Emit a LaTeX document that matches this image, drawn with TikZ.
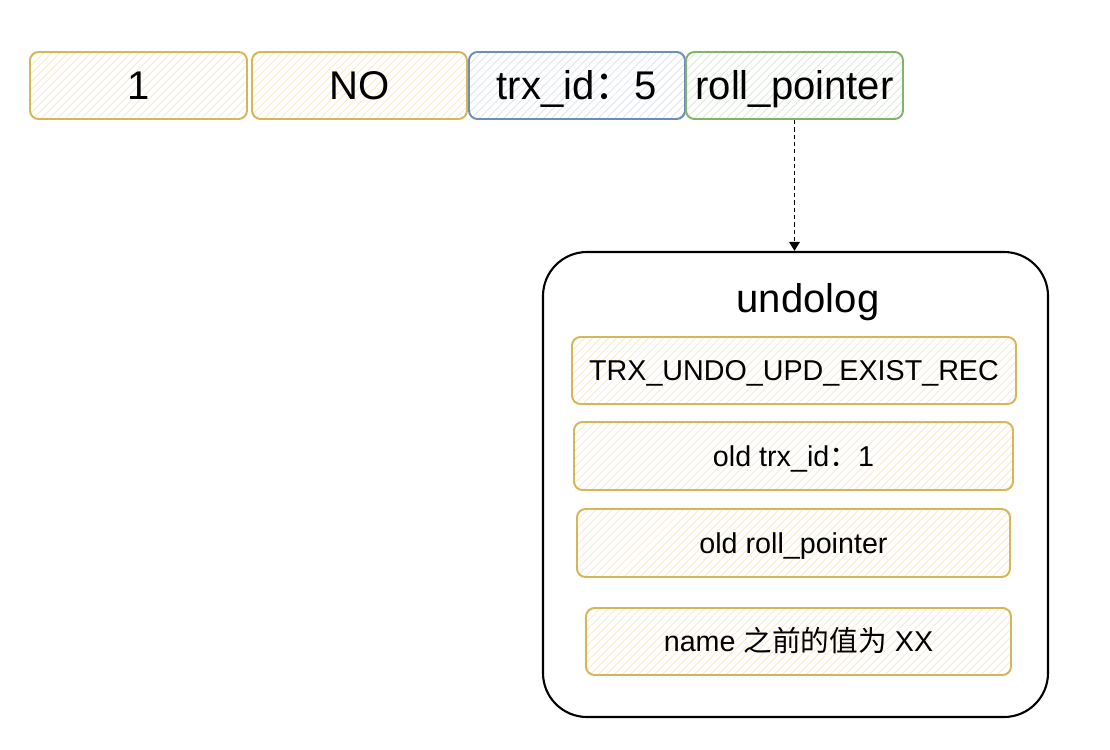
\documentclass[tikz,border=0pt]{standalone}
\usepackage{fontspec}
\setmainfont{Liberation Sans}
\newfontfamily\cjk{Noto Sans CJK SC}
\usetikzlibrary{arrows.meta,patterns.meta}

\definecolor{ydraw}{HTML}{D6B656}
\definecolor{yhatch}{HTML}{F4E2BC}
\definecolor{bdraw}{HTML}{6C8EBF}
\definecolor{bhatch}{HTML}{D0DAE8}
\definecolor{gdraw}{HTML}{82B366}
\definecolor{ghatch}{HTML}{D1E1CB}

\begin{document}
\begin{tikzpicture}[
  x=0.025cm, y=-0.025cm,
  bigtext/.style={font=\fontsize{28.5}{34}\selectfont, text height=20.4pt},
  smalltext/.style={font=\fontsize{20.4}{24}\selectfont, text height=14.6pt},
  cell/.style={
    draw=#1draw, line width=1.4pt, rounded corners=6pt,
    preaction={fill=white},
    pattern={Lines[angle=45,distance=4pt,line width=0.5pt]},
    pattern color=#1hatch,
    inner sep=0pt, text=black, text depth=0pt,
  },
  field/.style={cell=#1, bigtext, minimum height=67*0.025cm},
  entry/.style={cell=y, smalltext, minimum height=67*0.025cm},
]
\useasboundingbox (0,0) rectangle (1110,749);

% the record
\node[field=y, minimum width=217*0.025cm] (id) at (138.5,85.5) {1};
\node[field=y, minimum width=215*0.025cm] (name) at (359.5,85.5) {NO};
\node[field=b, minimum width=216*0.025cm] (trx) at (577,85.5) {trx\_id{\cjk ：}5};
\node[field=g, minimum width=217*0.025cm] (roll) at (794.5,85.5) {roll\_pointer};

% the undo log
\node[draw=black, line width=1.5pt, rounded corners=1.1cm,
  minimum width=505*0.025cm, minimum height=465*0.025cm] (undo) at (795.5,484.5) {};
\node[bigtext, anchor=base] (title) at (808,312) {undolog};
\node[entry, minimum width=444*0.025cm] (type) at (794,370.5) {TRX\_UNDO\_UPD\_EXIST\_REC};
\node[entry, minimum width=439*0.025cm, minimum height=68*0.025cm] (oldtrx) at (793.5,456) {old trx\_id{\cjk ：}1};
\node[entry, minimum width=433*0.025cm, minimum height=68*0.025cm] (oldroll) at (793.5,543) {old roll\_pointer};
\node[entry, minimum width=425*0.025cm] (oldval) at (798.5,641.5) {name {\cjk 之前的值为} XX};

\draw[line width=1.4pt, dash pattern=on 3pt off 2.2pt,
  -{Triangle[width=7.5pt,length=6.5pt]}] (roll.south) -- (roll.south |- undo.north);
\end{tikzpicture}
\end{document}
